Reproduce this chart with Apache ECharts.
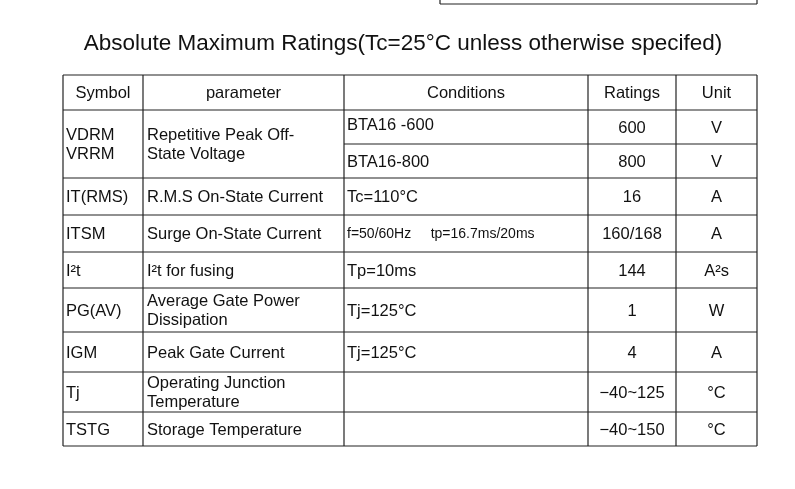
<!DOCTYPE html>
<html lang="en">
<head>
    <meta charset="UTF-8">
    <title></title>
    <script src="https://cdn.jsdelivr.net/npm/echarts@6/dist/echarts.min.js"></script>
    <style>
        html, body { margin: 0; padding: 0; background: #fff; }
        #main { width: 795px; height: 489px; }
    </style>
</head>
<body>
<div id="main"></div>
<script>
    var title = 'Absolute Maximum Ratings(Tc=25°C unless otherwise specifed)';
    var headers = ['Symbol', 'parameter', 'Conditions', 'Ratings', 'Unit'];
    var symbols = ['VDRM\nVRRM', 'IT(RMS)', 'ITSM', 'I²t', 'PG(AV)', 'IGM', 'Tj', 'TSTG'];
    var params = ['Repetitive Peak Off-\nState Voltage', 'R.M.S On-State Current', 'Surge On-State Current',
        'I²t for fusing', 'Average Gate Power\nDissipation', 'Peak Gate Current',
        'Operating Junction\nTemperature', 'Storage Temperature'];
    // conditions / ratings / units per sub-row (first symbol spans two)
    var conditions = ['BTA16 -600', 'BTA16-800', 'Tc=110°C', 'f=50/60Hz     tp=16.7ms/20ms', 'Tp=10ms', 'Tj=125°C', 'Tj=125°C', '', ''];
    var ratings = ['600', '800', '16', '160/168', '144', '1', '4', '−40~125', '−40~150'];
    var units = ['V', 'V', 'A', 'A', 'A²s', 'W', 'A', '°C', '°C'];

    var colX = [63, 143, 344, 588, 676, 757];
    var rowY = [75, 110, 144, 178, 215, 252, 288, 332, 372, 412, 446];
    var groupRows = [[1, 3], [3, 4], [4, 5], [5, 6], [6, 7], [7, 8], [8, 9], [9, 10]];
    var font = '16.5px "Liberation Sans", Arial, sans-serif';

    var els = [];
    function line(x1, y1, x2, y2) {
        els.push({type: 'line', shape: {x1: x1, y1: y1, x2: x2, y2: y2}, style: {stroke: '#222', lineWidth: 1.2}});
    }
    function text(str, x, y, align, f) {
        els.push({type: 'text', x: x, y: y, style: {text: str, font: f || font, fill: '#111',
            align: align, verticalAlign: 'middle', lineHeight: 19}});
    }

    // partial box at top
    line(440, 0, 440, 4); line(757, 0, 757, 4); line(440, 4, 757, 4);
    text(title, 403, 44, 'center', '22.5px "Liberation Sans", Arial, sans-serif');

    // outer frame and column lines
    line(colX[0], rowY[0], colX[5], rowY[0]);
    line(colX[0], rowY[10], colX[5], rowY[10]);
    colX.forEach(function (x) { line(x, rowY[0], x, rowY[10]); });
    // row lines
    for (var i = 1; i < rowY.length - 1; i++) {
        var start = i === 2 ? colX[2] : colX[0];
        line(start, rowY[i], colX[5], rowY[i]);
    }

    headers.forEach(function (h, c) {
        text(h, (colX[c] + colX[c + 1]) / 2, (rowY[0] + rowY[1]) / 2 + 1, 'center');
    });
    groupRows.forEach(function (g, k) {
        var cy = (rowY[g[0]] + rowY[g[1]]) / 2 + 1;
        text(symbols[k], colX[0] + 3, cy, 'left');
        text(params[k], colX[1] + 4, cy, 'left');
    });
    for (var r = 0; r < conditions.length; r++) {
        var cy2 = (rowY[r + 1] + rowY[r + 2]) / 2 + 1;
        text(conditions[r], colX[2] + 3, cy2 - (r === 0 ? 3 : 0), 'left',
            r === 3 ? '14px "Liberation Sans", Arial, sans-serif' : font);
        text(ratings[r], (colX[3] + colX[4]) / 2, cy2, 'center');
        text(units[r], (colX[4] + colX[5]) / 2, cy2, 'center');
    }

    var chart = echarts.init(document.getElementById('main'));
    chart.setOption({animation: false, graphic: {elements: els}});
</script>
</body>
</html>
